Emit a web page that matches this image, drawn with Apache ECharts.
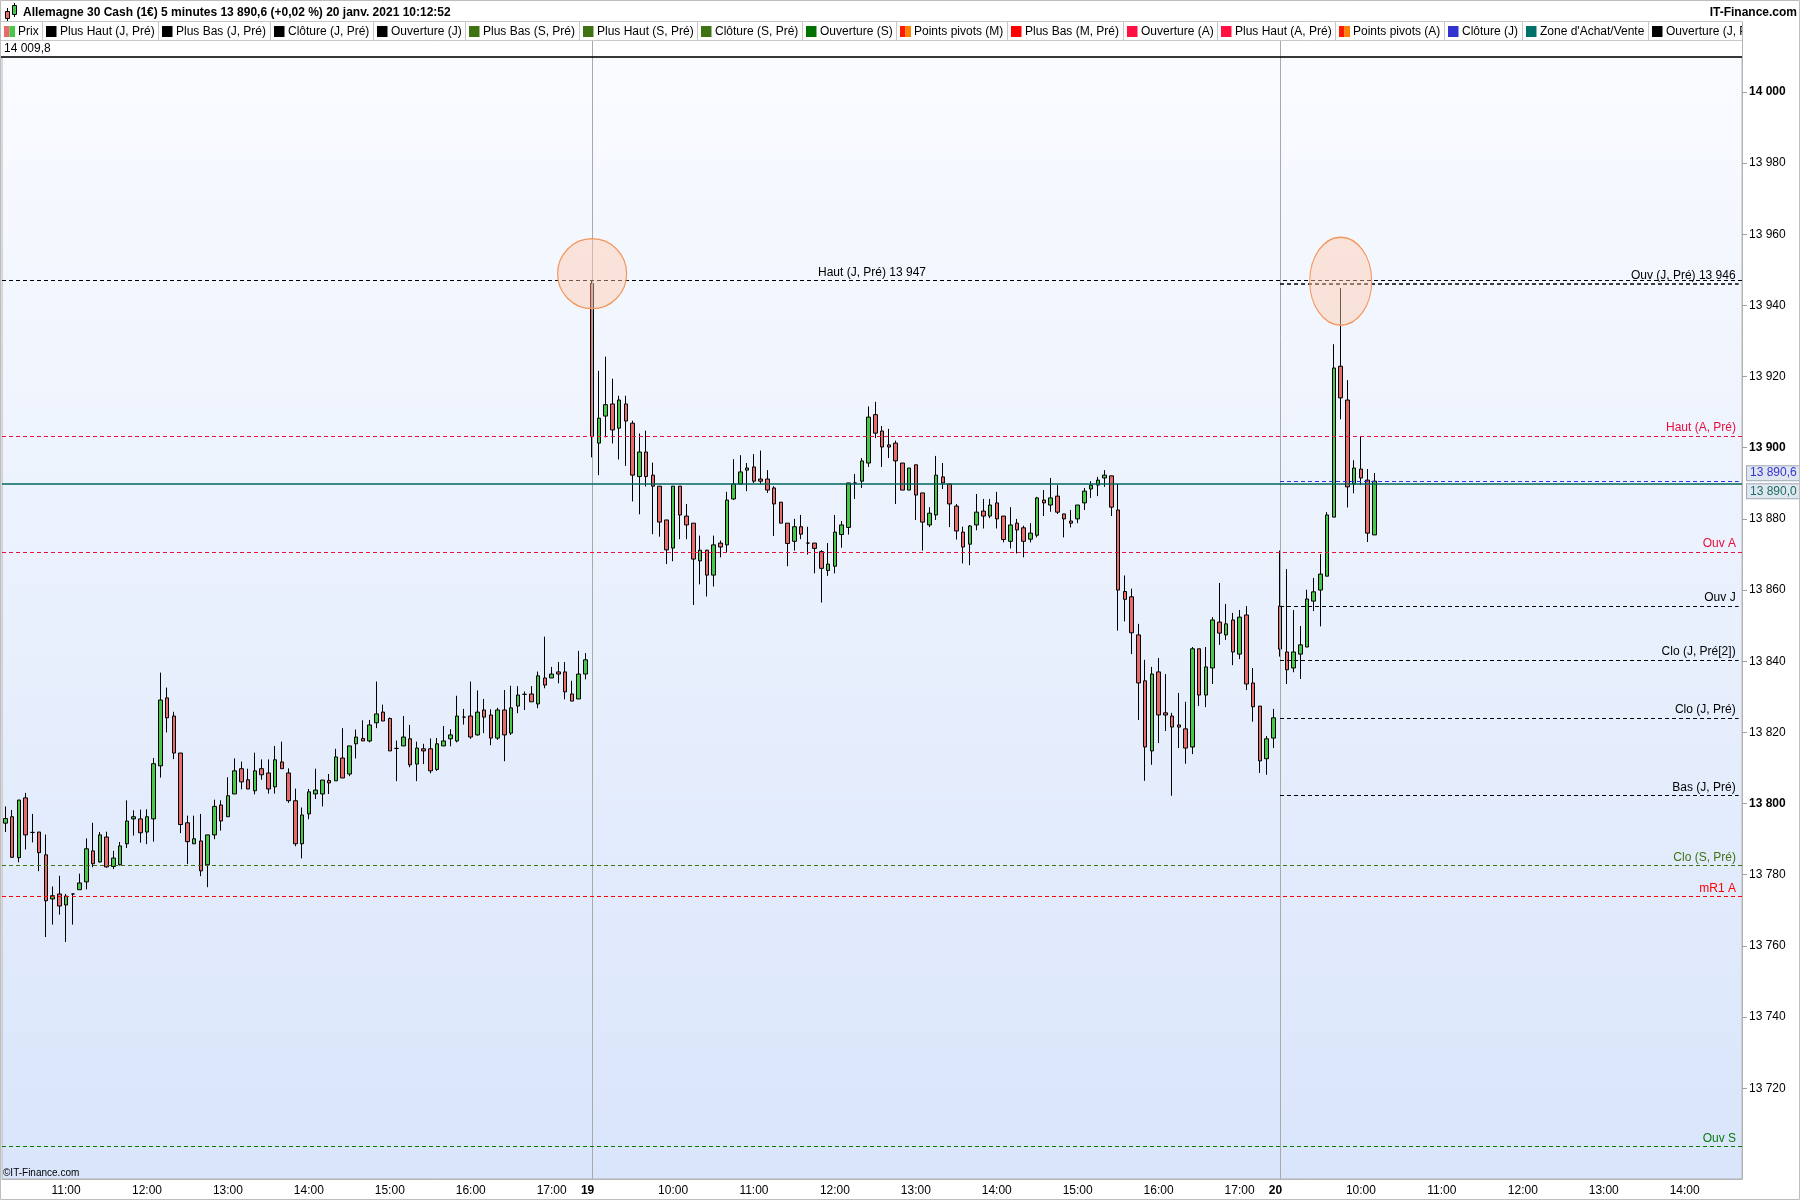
<!DOCTYPE html>
<html><head><meta charset="utf-8">
<script src="https://cdn.jsdelivr.net/npm/echarts@6/dist/echarts.min.js"></script>
<style>html,body{margin:0;padding:0;background:#fff}#c{width:1800px;height:1200px}</style>
</head><body><div id="c"></div>
<script>
// ---------------- DATA ----------------
const titleText = 'Allemagne 30 Cash (1€) 5 minutes 13 890,6 (+0,02 %) 20 janv. 2021 10:12:52';
const siteText = 'IT-Finance.com';
const topValueText = '14 009,8';
const sessionDays = ['18', '19', '20'];
const sessionStarts = ['10:15', '09:00', '09:00'];
const sessionCounts = [87, 102, 69];

// candles: [open, close, low, high]
const day18 = [
[13794.5,13795.8,13792.0,13799.2],[13796.3,13784.9,13784.7,13798.2],[13784.8,13801.0,13783.5,13801.0],[13801.6,13791.2,13787.1,13803.0],
[13791.9,13791.9,13789.1,13797.1],[13792.0,13786.2,13781.0,13792.0],[13785.6,13772.7,13762.5,13791.3],[13773.2,13774.1,13766.0,13776.7],
[13774.6,13771.2,13768.8,13779.7],[13771.5,13774.0,13761.1,13774.6],[13774.6,13774.6,13766.0,13774.6],[13775.8,13777.7,13775.8,13780.3],
[13778.0,13787.3,13775.9,13790.2],[13786.7,13783.1,13782.1,13794.6],[13783.6,13791.2,13783.4,13792.0],[13790.6,13782.2,13782.0,13792.1],
[13782.3,13784.7,13781.6,13786.7],[13782.8,13788.1,13782.6,13789.2],[13788.7,13795.1,13787.5,13800.9],[13795.7,13796.3,13791.0,13798.1],
[13795.7,13791.8,13789.0,13798.3],[13792.0,13796.3,13788.6,13798.4],[13795.7,13811.2,13789.3,13812.8],[13810.6,13829.1,13807.3,13836.8],
[13829.7,13824.1,13820.0,13832.6],[13824.6,13814.2,13812.5,13825.8],[13814.2,13794.1,13791.7,13814.2],[13794.6,13789.3,13783.0,13796.6],
[13788.7,13790.1,13788.7,13796.6],[13789.5,13781.1,13779.6,13797.1],[13782.8,13791.2,13776.5,13791.2],[13791.2,13799.2,13790.0,13801.1],
[13799.6,13795.1,13792.4,13800.9],[13796.3,13802.2,13796.3,13807.4],[13802.7,13809.2,13802.7,13812.7],[13809.8,13806.1,13804.0,13811.8],
[13806.7,13804.1,13804.1,13809.8],[13803.6,13809.2,13802.6,13814.3],[13809.8,13808.1,13806.7,13812.4],[13808.6,13804.1,13802.8,13812.4],
[13804.7,13812.3,13802.8,13816.2],[13811.7,13809.8,13809.8,13817.4],[13808.6,13800.8,13800.2,13809.9],[13800.8,13788.7,13788.0,13804.2],
[13788.7,13796.8,13784.6,13798.9],[13797.1,13803.3,13795.6,13804.1],[13802.7,13803.8,13801.3,13809.8],[13802.7,13806.6,13799.2,13806.6],
[13806.5,13805.8,13802.7,13808.3],[13806.4,13813.1,13806.4,13815.4],[13812.8,13807.2,13807.2,13821.2],[13808.3,13816.2,13807.7,13816.2],
[13816.8,13818.7,13812.7,13820.8],[13818.3,13817.6,13817.6,13823.4],[13817.6,13822.1,13817.2,13823.5],[13822.7,13825.2,13821.2,13834.3],
[13825.7,13823.2,13823.2,13827.8],[13823.9,13814.8,13814.8,13824.2],[13815.5,13815.5,13806.3,13817.7],[13816.2,13818.7,13816.2,13824.6],
[13818.2,13810.9,13810.2,13822.1],[13811.1,13815.6,13806.3,13817.4],[13815.4,13814.8,13811.1,13816.8],[13815.4,13809.2,13808.5,13818.3],
[13809.6,13816.8,13809.2,13818.4],[13816.2,13817.6,13816.2,13821.8],[13818.2,13819.3,13816.1,13820.9],[13817.6,13824.6,13817.2,13830.3],
[13824.3,13824.3,13822.2,13826.6],[13824.6,13818.7,13818.2,13834.3],[13819.3,13825.7,13819.1,13831.8],[13826.3,13824.3,13819.8,13829.4],
[13824.9,13818.4,13816.4,13826.5],[13818.4,13826.3,13817.9,13826.9],[13826.3,13819.3,13811.9,13831.9],[13819.8,13826.9,13819.3,13833.1],
[13827.4,13830.5,13825.4,13833.0],[13830.7,13830.7,13826.3,13831.5],[13830.8,13828.6,13828.6,13833.0],[13828.0,13835.9,13826.8,13837.1],
[13835.3,13833.3,13832.4,13846.9],[13835.3,13836.4,13835.3,13838.4],[13837.0,13836.4,13833.8,13839.8],[13837.0,13831.4,13829.3,13839.8],
[13830.8,13828.8,13828.8,13834.5],[13829.4,13836.4,13829.4,13842.9],[13836.4,13840.4,13834.9,13842.3]
];
const day19 = [
[13946.2,13903.1,13897.3,13947.0],[13901.3,13908.3,13892.3,13921.6],[13908.9,13912.1,13902.9,13925.6],[13912.3,13905.0,13901.2,13919.4],
[13905.5,13913.4,13896.7,13914.6],[13912.3,13907.5,13894.9,13914.6],[13906.9,13892.3,13884.9,13907.6],[13891.9,13898.8,13881.3,13904.0],
[13898.8,13891.9,13889.1,13904.8],[13892.3,13889.2,13875.7,13895.8],[13889.2,13879.1,13875.0,13889.2],[13879.7,13871.3,13867.3,13879.7],
[13871.8,13889.2,13868.1,13889.2],[13889.2,13881.1,13874.3,13889.2],[13880.8,13878.3,13874.3,13884.2],[13878.8,13868.7,13855.8,13878.8],
[13868.2,13871.2,13861.6,13875.3],[13871.2,13864.2,13858.2,13871.3],[13864.2,13872.7,13861.0,13875.3],[13873.2,13872.1,13869.2,13873.9],
[13872.7,13885.3,13870.7,13887.6],[13885.6,13889.8,13885.3,13896.8],[13889.8,13893.2,13889.8,13897.9],[13893.7,13894.3,13887.8,13895.7],
[13894.6,13890.6,13890.1,13898.2],[13891.2,13890.6,13889.8,13899.2],[13891.2,13888.1,13887.3,13893.7],[13888.7,13884.2,13875.2,13889.2],
[13884.7,13878.8,13878.8,13884.7],[13878.8,13873.1,13866.7,13878.8],[13873.7,13877.8,13871.1,13880.0],[13877.8,13875.7,13874.3,13881.1],
[13873.2,13873.2,13870.0,13877.8],[13873.2,13871.7,13864.7,13873.2],[13870.8,13866.1,13856.5,13871.2],[13865.5,13867.3,13864.0,13873.2],
[13866.7,13876.3,13864.7,13881.1],[13875.6,13878.3,13871.9,13879.4],[13877.6,13890.1,13875.6,13890.1],[13890.1,13890.1,13885.6,13892.6],
[13890.6,13896.3,13888.7,13897.1],[13895.7,13908.6,13894.6,13911.6],[13909.3,13904.1,13902.7,13912.9],[13904.7,13900.2,13894.6,13906.1],
[13900.8,13900.2,13897.1,13905.3],[13901.3,13896.3,13884.2,13902.0],[13895.7,13888.1,13888.1,13895.7],[13888.1,13894.3,13888.1,13894.3],
[13895.2,13886.7,13879.7,13895.2],[13887.3,13879.1,13871.1,13887.3],[13878.3,13881.6,13877.7,13883.3],[13881.1,13892.3,13879.7,13897.7],
[13891.8,13890.1,13888.4,13895.7],[13889.8,13884.2,13877.7,13889.8],[13883.6,13876.6,13874.2,13884.2],[13876.3,13872.1,13867.5,13877.8],
[13872.9,13878.0,13867.0,13878.3],[13878.3,13881.9,13876.8,13887.0],[13882.2,13880.8,13877.3,13885.6],[13880.8,13883.9,13880.2,13885.6],
[13884.5,13880.0,13877.3,13887.6],[13880.8,13874.2,13873.4,13880.8],[13873.7,13878.3,13871.7,13883.3],[13878.8,13876.9,13870.3,13880.0],
[13877.5,13873.7,13869.2,13878.1],[13874.3,13876.0,13873.4,13878.8],[13875.4,13885.9,13874.8,13886.2],[13885.3,13884.5,13880.8,13888.1],
[13883.9,13885.9,13882.0,13891.5],[13886.4,13881.9,13881.4,13889.5],[13881.4,13880.0,13874.8,13881.4],[13879.4,13878.8,13877.6,13882.5],
[13880.0,13883.9,13878.8,13883.9],[13884.5,13887.8,13882.5,13888.7],[13888.4,13889.5,13885.9,13890.6],[13889.5,13890.9,13886.4,13891.8],
[13891.5,13892.3,13889.0,13893.7],[13892.1,13883.3,13880.8,13892.1],[13882.5,13860.0,13848.6,13889.8],[13859.6,13857.4,13851.2,13864.1],
[13858.1,13848.0,13842.0,13860.4],[13847.4,13833.9,13823.5,13850.5],[13834.5,13815.9,13806.4,13840.4],[13814.8,13836.4,13810.9,13838.4],
[13837.0,13824.9,13817.0,13840.9],[13825.5,13824.9,13820.4,13836.4],[13824.6,13821.5,13802.2,13825.5],[13822.1,13821.5,13815.6,13831.1],
[13821.0,13815.6,13811.2,13828.6],[13815.9,13843.5,13813.9,13844.0],[13843.5,13830.5,13827.4,13843.5],[13830.5,13838.4,13827.1,13844.0],
[13838.1,13851.6,13833.6,13852.4],[13851.0,13847.9,13844.6,13862.0],[13847.4,13850.5,13846.0,13856.1],[13851.6,13842.6,13838.9,13853.6],
[13842.0,13852.4,13840.6,13854.4],[13853.0,13833.6,13831.9,13855.5],[13833.9,13827.2,13823.0,13838.1],[13827.4,13812.0,13808.6,13827.4],
[13812.6,13818.2,13808.1,13819.0],[13818.4,13824.1,13815.6,13826.6]
];
const day20 = [
[13855.5,13843.4,13841.3,13871.1],[13842.6,13837.6,13833.6,13865.9],[13838.1,13842.6,13836.9,13854.4],[13842.0,13844.6,13835.0,13849.9],
[13844.0,13857.5,13844.0,13860.1],[13856.9,13859.5,13854.1,13863.4],[13860.0,13864.5,13849.8,13870.1],[13863.9,13881.1,13863.9,13881.9],
[13880.5,13922.4,13880.5,13929.1],[13922.9,13914.0,13908.0,13944.9],[13913.4,13889.0,13883.2,13919.0],[13889.8,13894.3,13887.2,13896.5],
[13894.0,13891.5,13889.5,13903.3],[13890.9,13876.0,13873.5,13894.0],[13875.5,13890.6,13875.5,13892.9]
];

// y axis
const yMin = 13694.5, yMax = 14009.8;
const yTicks = [13720,13740,13760,13780,13800,13820,13840,13860,13880,13900,13920,13940,13960,13980,14000];

// horizontal levels spanning the whole chart
const levelLabels = ['Haut (J, Pré) 13 947', 'Haut (A, Pré)', 'Ouv A', 'Clo (S, Pré)', 'mR1 A', 'Ouv S'];
const levelValues = [13947, 13903.3, 13870.7, 13782.6, 13773.9, 13703.7];
// levels of the current day (start at day 20)
const dayLevelLabels = ['Ouv (J, Pré) 13 946', 'Ouv J', 'Clo (J, Pré[2])', 'Clo (J, Pré)', 'Bas (J, Pré)'];
const dayLevelValues = [13946, 13855.5, 13840.4, 13824.1, 13802.3];
const zoneValue = 13890.0, closeJValue = 13890.6;
const zoneText = '13 890,0', closeJText = '13 890,6';
// highlighted highs [category index, value]
const highlightIdx = [87, 198];
const highlightVal = [13948.9, 13946.8];

const legendNames = ['Prix','Plus Haut (J, Pré)','Plus Bas (J, Pré)','Clôture (J, Pré)','Ouverture (J)','Plus Bas (S, Pré)','Plus Haut (S, Pré)','Clôture (S, Pré)','Ouverture (S)','Points pivots (M)','Plus Bas (M, Pré)','Ouverture (A)','Plus Haut (A, Pré)','Points pivots (A)','Clôture (J)',"Zone d'Achat/Vente",'Ouverture (J, Pré)'];

// ---------------- STYLES ----------------
const FONTF = '"Liberation Sans", Arial, Helvetica, sans-serif';
const F12 = '12px ' + FONTF, F12B = 'bold 12px ' + FONTF;
const UP = '#48c848', DOWN = '#e86a6a';
const CRIMSON = '#e8103c', RED = '#ff0000', OLIVE = '#3f7212', GREEN = '#0a7a0a', TEAL = '#00665e', BLUE = '#2f2fe0';
const levelColors = ['#000', CRIMSON, CRIMSON, OLIVE, RED, GREEN];
const legendColors = [[DOWN, UP],['#000'],['#000'],['#000'],['#000'],[OLIVE],[OLIVE],[OLIVE],['#007000'],['#ff1a00','#ff8000'],['#ff0000'],['#ff1040'],['#ff1040'],['#ff1a00','#ff8000'],['#3232d0'],['#00706a'],['#000']];

// ---------------- BUILD ----------------
function sessionTimes(day, start, count) {
  const p = start.split(':'); const s = (+p[0]) * 60 + (+p[1]); const out = [];
  for (let k = 0; k < count; k++) { const m = s + 5 * k; out.push(day + ' ' + String(Math.floor(m / 60)).padStart(2, '0') + ':' + String(m % 60).padStart(2, '0')); }
  return out;
}
let categories = [];
sessionDays.forEach((d, i) => { categories = categories.concat(sessionTimes(d, sessionStarts[i], sessionCounts[i])); });
const candles = day18.concat(day19, day20);
const ohlc = categories.map((c, i) => i < candles.length ? candles[i] : '-');
const day19Start = day18.length, day20Start = day18.length + day19.length;
const lastIdx = categories.length - 1;

function fmtNum(v) { const t = Math.floor(v / 1000), r = Math.round(v % 1000); return t + ' ' + String(r).padStart(3, '0'); }

const dash = [4, 3];
const mlData = [];
mlData.push({ xAxis: categories[day19Start], lineStyle: { color: '#a9a9a9', type: 'solid', width: 1 }, label: { show: false } });
mlData.push({ xAxis: categories[day20Start], lineStyle: { color: '#a9a9a9', type: 'solid', width: 1 }, label: { show: false } });
mlData.push({ yAxis: zoneValue, lineStyle: { color: TEAL, type: 'solid', width: 1.5 }, label: { show: false } });
levelValues.forEach((v, i) => {
  mlData.push({ yAxis: v, lineStyle: { color: levelColors[i], type: dash, width: 1 },
    label: { show: true, formatter: levelLabels[i], position: i === 0 ? 'insideMiddleTop' : 'insideEndTop', color: levelColors[i], fontSize: 12, fontFamily: FONTF, distance: [6, 2] } });
});
mlData.push([{ coord: [day20Start, closeJValue], lineStyle: { color: BLUE, type: dash, width: 1 }, label: { show: false } }, { coord: [lastIdx, closeJValue] }]);
dayLevelValues.forEach((v, i) => {
  mlData.push([{ coord: [day20Start, v], lineStyle: { color: '#000', type: dash, width: i === 0 ? 1.6 : 1 },
    label: { show: true, formatter: dayLevelLabels[i], position: 'insideEndTop', color: '#000', fontSize: 12, fontFamily: FONTF, distance: [3, 2] } }, { coord: [lastIdx, v] }]);
});

const ellipsePath = 'path://M0 50A50 50 0 1 1 100 50A50 50 0 1 1 0 50Z';
const mpData = [
  { coord: [highlightIdx[0], highlightVal[0]], symbol: ellipsePath, symbolSize: [69, 70] },
  { coord: [highlightIdx[1], highlightVal[1]], symbol: ellipsePath, symbolSize: [62, 88] }
];

const option = {
  animation: false,
  backgroundColor: '#ffffff',
  textStyle: { fontFamily: FONTF },
  grid: { left: 2, right: 58, top: 57, bottom: 21, show: true, borderColor: '#b4b4b4', borderWidth: 1, containLabel: false, outerBoundsMode: 'none',
    backgroundColor: new echarts.graphic.LinearGradient(0, 0, 0, 1, [{ offset: 0, color: '#f9fbff' }, { offset: 1, color: '#d9e5fb' }]) },
  xAxis: { type: 'category', data: categories, boundaryGap: true,
    axisLine: { show: true, lineStyle: { color: '#b4b4b4' } }, axisTick: { show: false }, splitLine: { show: false },
    axisLabel: { interval: function (i, v) { return v.slice(-3) === ':00'; },
      formatter: function (v) { const t = v.split(' '); return t[1] === '09:00' ? '{d|' + t[0] + '}' : t[1]; },
      margin: 6, fontSize: 12, color: '#000', fontFamily: FONTF,
      rich: { d: { fontWeight: 'bold', fontSize: 12, color: '#000', fontFamily: FONTF, padding: [0, 9, 0, 0] } } } },
  yAxis: { type: 'value', position: 'right', min: yMin, max: yMax, splitLine: { show: false },
    axisLine: { show: true, lineStyle: { color: '#b4b4b4' } },
    axisTick: { show: true, length: 5, lineStyle: { color: '#a0a0a0' }, customValues: yTicks },
    axisLabel: { customValues: yTicks, margin: 7, fontSize: 12, color: '#000', fontFamily: FONTF,
      formatter: function (v) { const s = fmtNum(v); return v % 100 === 0 ? '{b|' + s + '}' : s; },
      rich: { b: { fontWeight: 'bold', fontSize: 12, color: '#000', fontFamily: FONTF } } } },
  series: [{
    type: 'candlestick', data: ohlc, barWidth: 4,
    itemStyle: { color: UP, color0: DOWN, borderColor: '#000', borderColor0: '#000', borderColorDoji: '#000', borderWidth: 1 },
    markLine: { silent: true, symbol: ['none', 'none'], animation: false, precision: 1, data: mlData },
    markPoint: { silent: true, animation: false, label: { show: false },
      itemStyle: { color: 'rgba(255,200,170,0.44)', borderColor: '#f5955a', borderWidth: 1.2 }, data: mpData }
  }]
};

const chart = echarts.init(document.getElementById('c'), null, { renderer: 'canvas', width: 1800, height: 1200 });
chart.setOption(option);

// ---------------- HEADER / DECORATION ----------------
const mctx = document.createElement('canvas').getContext('2d');
function tw(t, font) { mctx.font = font; return mctx.measureText(t).width; }
const P = (i, v) => chart.convertToPixel({ gridIndex: 0 }, [i, v]);
const gl = P(0, yMax), gr = P(lastIdx, yMin);
const plotTop = 57, plotRight = 1742, plotBottom = 1179;
const g = [];
// title icon
g.push({ type: 'line', shape: { x1: 7.5, y1: 8, x2: 7.5, y2: 21 }, style: { stroke: '#000', lineWidth: 1 } });
g.push({ type: 'rect', shape: { x: 5.5, y: 11.5, width: 4, height: 7 }, style: { fill: DOWN, stroke: '#000', lineWidth: 1 } });
g.push({ type: 'line', shape: { x1: 14.5, y1: 3, x2: 14.5, y2: 17 }, style: { stroke: '#000', lineWidth: 1 } });
g.push({ type: 'rect', shape: { x: 12.5, y: 5.5, width: 4, height: 9 }, style: { fill: UP, stroke: '#000', lineWidth: 1 } });
g.push({ type: 'text', x: 23, y: 13, style: { text: titleText, font: F12B, fill: '#000', align: 'left', verticalAlign: 'middle' } });
g.push({ type: 'text', x: 1797, y: 13, style: { text: siteText, font: F12B, fill: '#000', align: 'right', verticalAlign: 'middle' } });
// legend row
g.push({ type: 'line', shape: { x1: 0, y1: 21.5, x2: plotRight, y2: 21.5 }, style: { stroke: '#c8c8c8', lineWidth: 1 } });
g.push({ type: 'line', shape: { x1: 0, y1: 40.5, x2: plotRight, y2: 40.5 }, style: { stroke: '#c8c8c8', lineWidth: 1 } });
let lx = 4;
legendNames.forEach((name, k) => {
  const cols = legendColors[k];
  if (cols.length === 2) {
    g.push({ type: 'rect', shape: { x: lx, y: 26, width: 5.5, height: 11 }, style: { fill: cols[0] } });
    g.push({ type: 'rect', shape: { x: lx + 5.5, y: 26, width: 5.5, height: 11 }, style: { fill: cols[1] } });
  } else {
    g.push({ type: 'rect', shape: { x: lx, y: 26, width: 10.5, height: 11 }, style: { fill: cols[0] } });
  }
  const tx = lx + 10.5 + 3.5;
  g.push({ type: 'text', x: tx, y: 31.5, style: { text: name, font: F12, fill: '#000', align: 'left', verticalAlign: 'middle' } });
  const sx = Math.round(tx + tw(name, F12) + 3.5) + 0.5;
  g.push({ type: 'line', shape: { x1: sx, y1: 22, x2: sx, y2: 40 }, style: { stroke: '#c8c8c8', lineWidth: 1 } });
  lx = sx + 3.5;
});
// cover legend overflow beyond plot
g.push({ type: 'rect', shape: { x: plotRight + 0.5, y: 22, width: 1800 - plotRight - 1.5, height: 18 }, style: { fill: '#fff' }, z: 110 });
g.push({ type: 'line', shape: { x1: plotRight + 0.5, y1: 21.5, x2: plotRight + 0.5, y2: plotTop }, style: { stroke: '#b4b4b4', lineWidth: 1 }, z: 111 });
// top value row
g.push({ type: 'text', x: 4, y: 49, style: { text: topValueText, font: F12, fill: '#000', align: 'left', verticalAlign: 'middle' } });
[day19Start, day20Start].forEach(i => {
  const x = Math.round(P(i, yMax)[0]) + 0.5;
  g.push({ type: 'line', shape: { x1: x, y1: 41, x2: x, y2: plotTop }, style: { stroke: '#a9a9a9', lineWidth: 1 } });
});
g.push({ type: 'line', shape: { x1: 0, y1: plotTop, x2: plotRight, y2: plotTop }, style: { stroke: '#000', lineWidth: 1.6 }, z: 112 });
// price boxes on the axis
const yc = P(0, closeJValue)[1], yz = P(0, zoneValue)[1];
g.push({ type: 'text', x: 1747, y: yc - 8, z: 120, style: { text: closeJText, font: F12, fill: '#3434d4', align: 'left', verticalAlign: 'middle', backgroundColor: '#dfe6ef', borderColor: '#9ea9b6', borderWidth: 1, padding: [1, 3, 1, 3] } });
g.push({ type: 'text', x: 1747, y: yz + 8, z: 120, style: { text: zoneText, font: F12, fill: '#1c6f66', align: 'left', verticalAlign: 'middle', backgroundColor: '#dfe6ef', borderColor: '#9ea9b6', borderWidth: 1, padding: [1, 3, 1, 3] } });
// copyright
g.push({ type: 'text', x: 3, y: 1173, style: { text: '©IT-Finance.com', font: '10px ' + FONTF, fill: '#000', align: 'left', verticalAlign: 'middle' } });
// outer frame
g.push({ type: 'rect', shape: { x: 0.5, y: 0.5, width: 1799, height: 1199 }, style: { fill: 'none', stroke: '#bdbdbd', lineWidth: 1 }, z: 200 });

chart.setOption({ graphic: { elements: g.map(e => Object.assign({ silent: true, z: e.z || 100 }, e)) } });
</script>
</body></html>
